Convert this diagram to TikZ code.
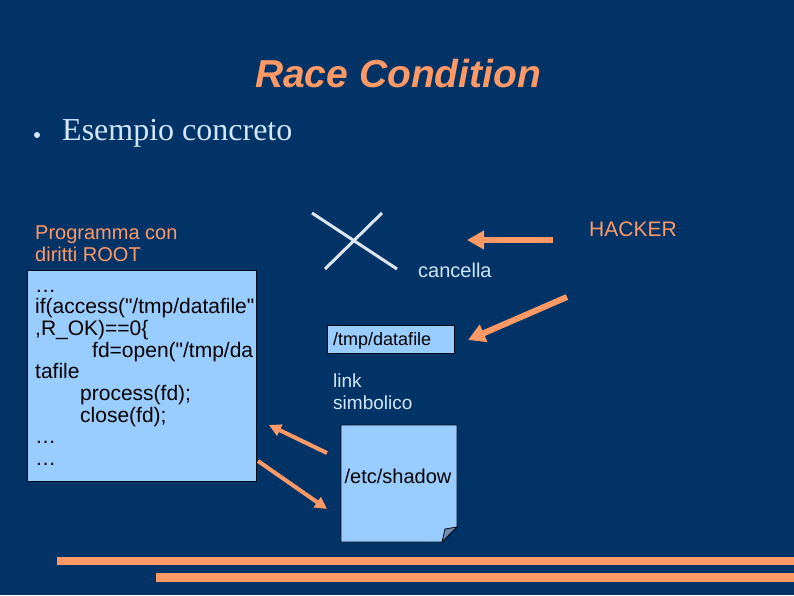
\documentclass[tikz,border=0pt]{standalone}
\usepackage{fontspec}
\setmainfont{Liberation Serif}
\setsansfont{Liberation Sans}
\newfontfamily\codefont{Liberation Sans}[Ligatures=TeXOff]
\usetikzlibrary{arrows.meta}
\definecolor{bgblue}{RGB}{2,51,102}
\definecolor{orng}{RGB}{255,153,102}
\definecolor{boxblue}{RGB}{153,204,255}
\definecolor{lighttxt}{RGB}{210,230,250}
\definecolor{crossc}{RGB}{220,230,240}
\definecolor{earc}{RGB}{110,140,175}
\tikzset{
  sanstxt/.style={font=\sffamily\fontsize{20}{22}\selectfont, inner sep=0pt, anchor=base west},
  codetxt/.style={sanstxt, text=black, font=\codefont\fontsize{21}{22}\selectfont},
  bigarrow/.style={draw=orng, line width=6pt, -{Triangle[length=17pt,width=18pt]}},
  smallarrow/.style={draw=orng, line width=4pt, -{Triangle[length=12pt,width=12pt]}},
  bluebox/.style={draw=black!80!bgblue, line width=0.8pt, fill=boxblue},
}
\begin{document}
\begin{tikzpicture}[x=1pt,y=-1pt]
\fill[bgblue] (0,0) rectangle (794,595);
\useasboundingbox (0,0) rectangle (794,595);
% title
\node[font=\sffamily\bfseries\itshape\fontsize{39}{44}\selectfont, text=orng, inner sep=0pt, anchor=base] (title) at (398,87) {Race Condition};
% bullet
\fill[lighttxt] (37,135) circle (3);
\node[font=\rmfamily\fontsize{32}{36}\selectfont, text=lighttxt, inner sep=0pt, anchor=base west] (esempio) at (62,140) {Esempio concreto};
% left labels
\node[sanstxt, text=orng] (prog1) at (35,239) {Programma con};
\node[sanstxt, text=orng] (prog2) at (35,261) {diritti ROOT};
% code box
\node[bluebox, minimum width=229pt, minimum height=211pt, anchor=north west, inner sep=0pt] (code) at (27,270) {};
\node[codetxt] (c1) at (35,292) {\dots};
\node[codetxt] (c2) at (35,313.5) {if(access("/tmp/datafile"};
\node[codetxt] (c3) at (35,335) {,R\_OK)==0\{};
\node[codetxt] (c4) at (92,357) {fd=open("/tmp/da};
\node[codetxt] (c5) at (35,378.5) {tafile};
\node[codetxt] (c6) at (80,400) {process(fd);};
\node[codetxt] (c7) at (80,422) {close(fd);};
\node[codetxt] (c8) at (35,443.5) {\dots};
\node[codetxt] (c9) at (35,465) {\dots};
% cross
\coordinate (x1a) at (312,213); \coordinate (x1b) at (397,269);
\coordinate (x2a) at (382,213); \coordinate (x2b) at (325,269);
\draw[crossc, line width=3pt] (x1a) -- (x1b);
\draw[crossc, line width=3pt] (x2a) -- (x2b);
\node[sanstxt, text=lighttxt] (cancella) at (418,277) {cancella};
% hacker
\node[sanstxt, text=orng, font=\sffamily\fontsize{21}{24}\selectfont] (hacker) at (589,236) {HACKER};
\coordinate (h1s) at (553,240); \coordinate (h1e) at (467,240);
\draw[bigarrow] (h1s) -- (h1e);
\coordinate (h2s) at (567,297); \coordinate (h2e) at (468,340);
\draw[bigarrow] (h2s) -- (h2e);
% tmp datafile
\node[bluebox, minimum width=127pt, minimum height=28pt, anchor=north west, inner sep=0pt] (tmpbox) at (327,325) {};
\node[codetxt, font=\sffamily\fontsize{18}{20}\selectfont] (tmptxt) at (333,345) {/tmp/datafile};
\node[sanstxt, text=lighttxt, font=\sffamily\fontsize{19}{22}\selectfont] (link1) at (333,387) {link};
\node[sanstxt, text=lighttxt, font=\sffamily\fontsize{19}{22}\selectfont] (link2) at (333,409) {simbolico};
% note
\coordinate (n1) at (341,425); \coordinate (n2) at (457,425);
\coordinate (n3) at (457,527); \coordinate (n4) at (442,542);
\coordinate (n5) at (341,542); \coordinate (n6) at (445,529);
\draw[bluebox] (n1) -- (n2) -- (n3) -- (n4) -- (n5) -- cycle;
\draw[draw=black!80!bgblue, line width=0.8pt, fill=earc] (n3) -- (n4) -- (n6) -- cycle;
\node[codetxt, font=\sffamily\fontsize{20}{22}\selectfont, anchor=base] (shadow) at (398,483) {/etc/shadow};
% arrows between code and shadow
\coordinate (a1s) at (327,453); \coordinate (a1e) at (269,425);
\draw[smallarrow] (a1s) -- (a1e);
\coordinate (a2s) at (258,461); \coordinate (a2e) at (327,509);
\draw[smallarrow] (a2s) -- (a2e);
% bottom bars
\fill[orng] (57,557) rectangle (794,565);
\fill[orng] (156,573) rectangle (794,582);
\end{tikzpicture}
\end{document}
